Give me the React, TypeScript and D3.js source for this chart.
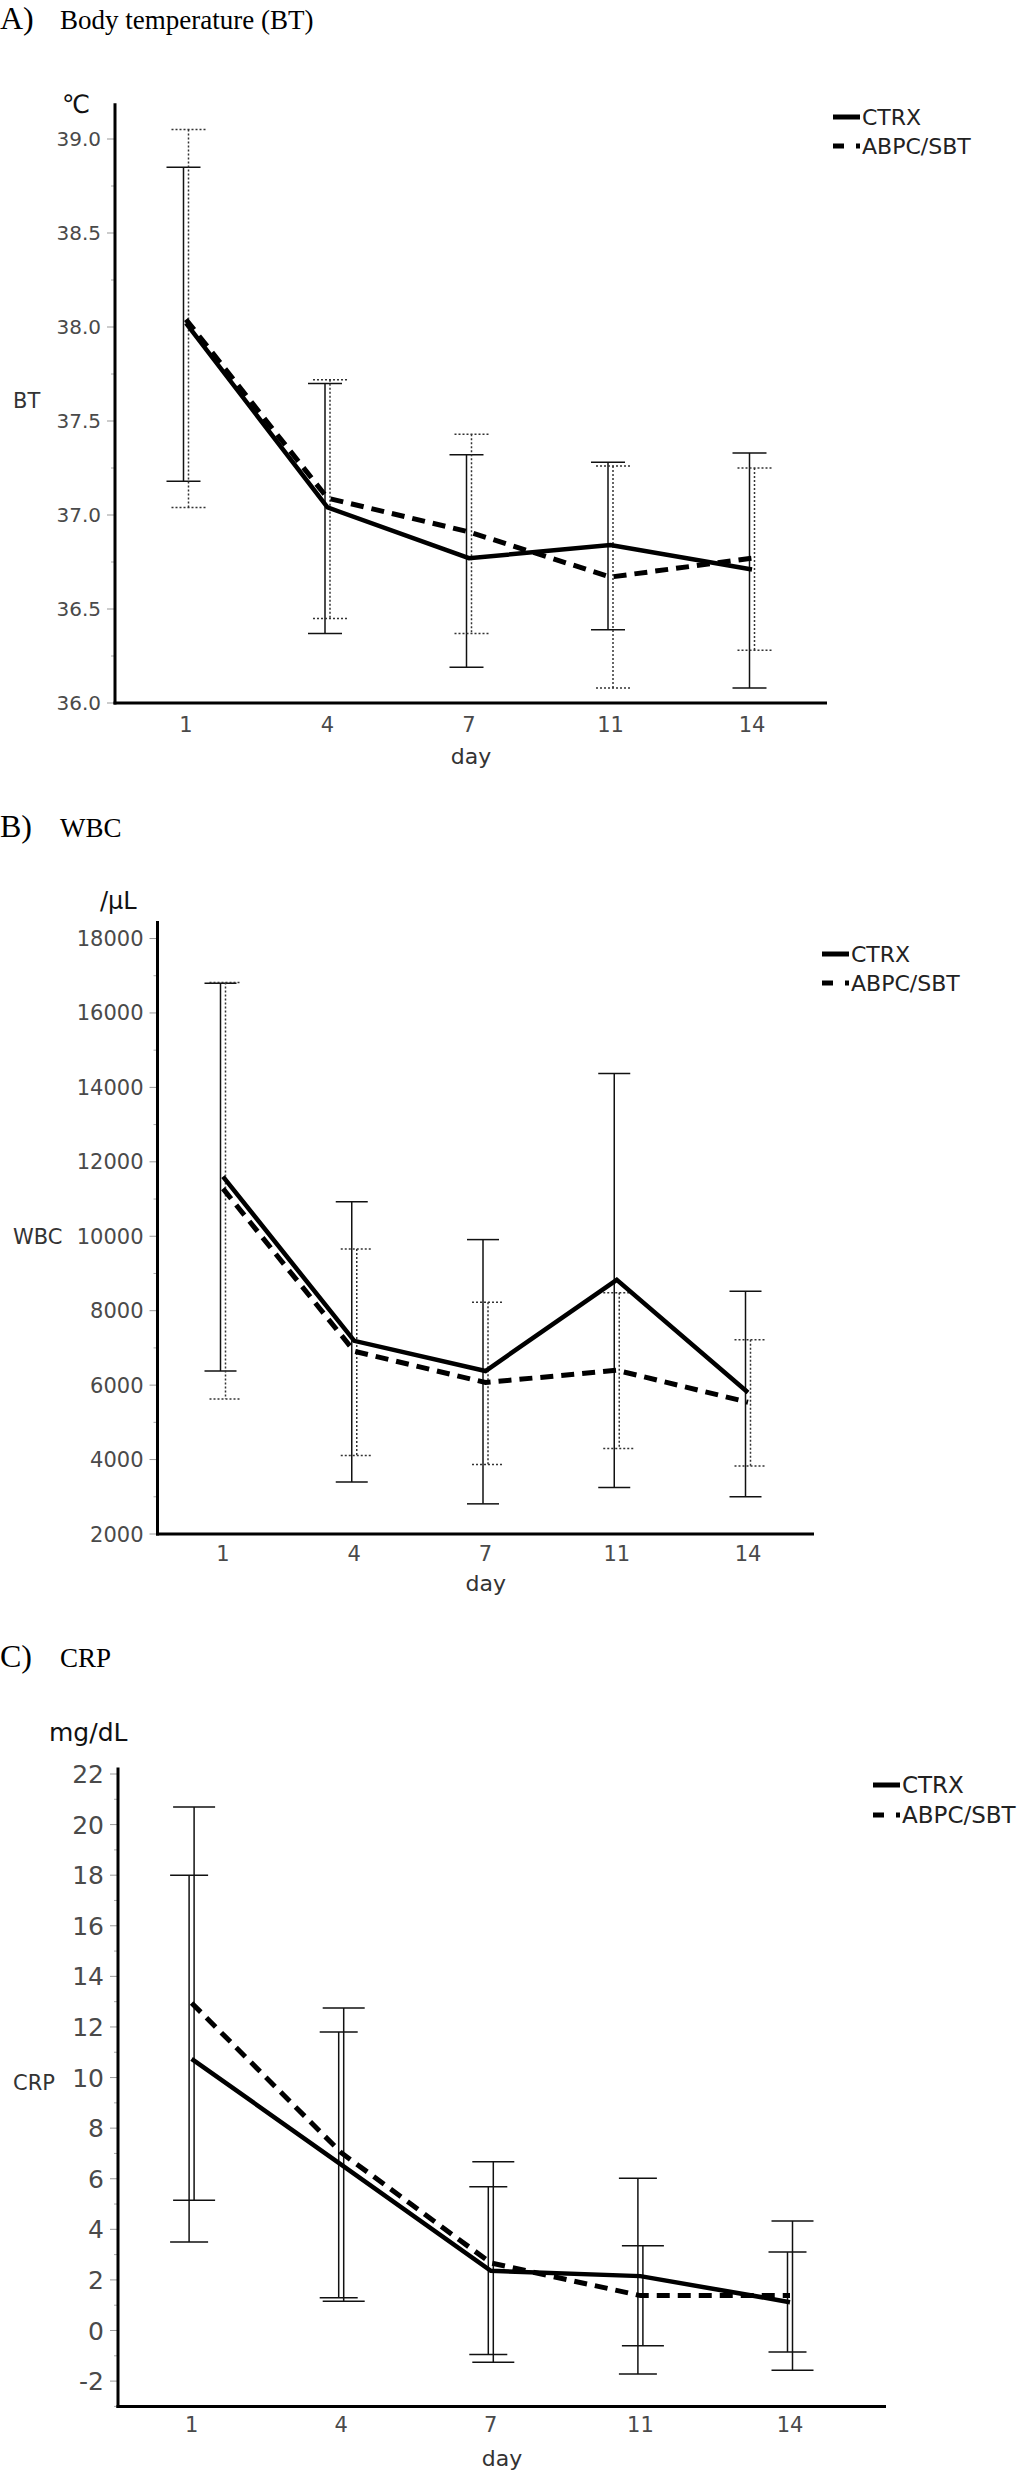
import React from 'react';
import * as d3 from 'd3';

const DAYS = ['1', '4', '7', '11', '14'];

// A) body temperature
const BT_CTRX_MEAN = [38.02, 37.04, 36.77, 36.84, 36.71];
const BT_CTRX_UPPER = [38.85, 37.70, 37.32, 37.28, 37.33];
const BT_CTRX_LOWER = [37.18, 36.37, 36.19, 36.39, 36.08];
const BT_ABPC_MEAN = [38.04, 37.09, 36.91, 36.67, 36.77];
const BT_ABPC_UPPER = [39.05, 37.72, 37.43, 37.26, 37.25];
const BT_ABPC_LOWER = [37.04, 36.45, 36.37, 36.08, 36.28];
const BT_TICKS = [36.0, 36.5, 37.0, 37.5, 38.0, 38.5, 39.0];

// B) WBC
const WBC_CTRX_MEAN = [11600, 7190, 6380, 8830, 5800];
const WBC_CTRX_UPPER = [16800, 10930, 9910, 14370, 8520];
const WBC_CTRX_LOWER = [6380, 3400, 2810, 3250, 3000];
const WBC_ABPC_MEAN = [11280, 6910, 6070, 6400, 5540];
const WBC_ABPC_UPPER = [16820, 9660, 8230, 8480, 7220];
const WBC_ABPC_LOWER = [5630, 4110, 3870, 4300, 3830];
const WBC_TICKS = [2000, 4000, 6000, 8000, 10000, 12000, 14000, 16000, 18000];

// C) CRP
const CRP_CTRX_MEAN = [10.74, 6.56, 2.36, 2.15, 1.12];
const CRP_CTRX_UPPER = [18.0, 11.8, 5.68, 6.02, 3.1];
const CRP_CTRX_LOWER = [3.5, 1.3, -0.95, -1.72, -0.85];
const CRP_ABPC_MEAN = [12.95, 7.03, 2.67, 1.38, 1.38];
const CRP_ABPC_UPPER = [20.7, 12.75, 6.67, 3.35, 4.33];
const CRP_ABPC_LOWER = [5.15, 1.16, -1.25, -0.6, -1.57];
const CRP_TICKS = [-2, 0, 2, 4, 6, 8, 10, 12, 14, 16, 18, 20, 22];

const SERIES_NAMES = ['CTRX', 'ABPC/SBT'];

const SANS = 'DejaVu Sans, Verdana, sans-serif';
const SERIF = 'Liberation Serif, Times New Roman, serif';

// plain hyphen for negatives, like the original
const locale = d3.formatLocale({ decimal: '.', thousands: ',', grouping: [3], currency: ['', ''], minus: '-' });

type Series = { mean: number[]; upper: number[]; lower: number[] };

type PanelProps = {
    letter: string;
    title: string;
    titleY: number;
    unit: string;
    unitX: number;
    unitY: number;
    unitSize: number;
    yLabel: string;
    yLabelY: number;
    domain: [number, number];
    axisTopVal: number;
    ticks: number[];
    minorStep: number;
    tickFmt: (v: number) => string;
    tickFont: number;
    axisX: number;
    axisRight: number;
    firstX: number;
    lastX: number;
    yBottom: number;
    yTop: number;
    xLabelY: number;
    dayY: number;
    legendX: number;
    legendY: number;
    legendFont: number;
    capCtrx: number;
    capAbpc: number;
    abpcBarsDotted: boolean;
    ctrx: Series;
    abpc: Series;
};

function Panel(p: PanelProps) {
    const x = d3.scalePoint<string>().domain(DAYS).range([p.firstX, p.lastX]);
    const y = d3.scaleLinear().domain(p.domain).range([p.yBottom, p.yTop]);
    const line = d3.line<number>()
        .x((_, i) => x(DAYS[i]) as number)
        .y((d) => y(d));

    const minor = d3.range(p.domain[0], p.ticks[p.ticks.length - 1] + 1e-9, p.minorStep)
        .filter((v) => !p.ticks.some((t) => Math.abs(t - v) < 1e-9));

    const bars = (s: Series, dx: number, cap: number, dotted: boolean, key: string) =>
        DAYS.map((d, i) => {
            const cx = (x(d) as number) + dx;
            const yt = y(s.upper[i]);
            const yb = y(s.lower[i]);
            const dash = dotted ? '2,2' : undefined;
            return (
                <g key={key + d} stroke={dotted ? '#333' : '#111'} strokeWidth={1.5} strokeDasharray={dash} fill="none">
                    <line x1={cx} x2={cx} y1={yt} y2={yb} />
                    <line x1={cx - cap} x2={cx + cap} y1={yt} y2={yt} />
                    <line x1={cx - cap} x2={cx + cap} y1={yb} y2={yb} />
                </g>
            );
        });

    const axisTop = y(p.axisTopVal);
    const axisBottom = y(p.domain[0]);

    return (
        <g>
            <text x={0} y={p.titleY} fontFamily={SERIF} fill="#000">
                <tspan fontSize={32}>{p.letter}</tspan>
                <tspan x={60} fontSize={27}>{p.title}</tspan>
            </text>

            <text x={p.unitX} y={p.unitY} fontFamily={SANS} fontSize={p.unitSize} fill="#111">{p.unit}</text>

            {/* y ticks */}
            {minor.map((v) => (
                <line key={'m' + v} x1={p.axisX - 4} x2={p.axisX - 1} y1={y(v)} y2={y(v)} stroke="#aaa" strokeWidth={1} />
            ))}
            {p.ticks.map((v) => (
                <g key={'t' + v}>
                    <line x1={p.axisX - 8} x2={p.axisX - 1} y1={y(v)} y2={y(v)} stroke="#999" strokeWidth={1} />
                    <text x={p.axisX - 14} y={y(v)} dy="0.36em" textAnchor="end" fontFamily={SANS}
                        fontSize={p.tickFont} fill="#4a4a4a">{p.tickFmt(v)}</text>
                </g>
            ))}
            <text x={13} y={p.yLabelY} dy="0.36em" fontFamily={SANS} fontSize={21} fill="#333">{p.yLabel}</text>

            {/* x tick labels */}
            {DAYS.map((d) => (
                <text key={'x' + d} x={x(d)} y={p.xLabelY} dy="0.36em" textAnchor="middle" fontFamily={SANS}
                    fontSize={21} fill="#4a4a4a">{d}</text>
            ))}
            <text x={(p.axisX + p.axisRight) / 2} y={p.dayY} dy="0.36em" textAnchor="middle" fontFamily={SANS}
                fontSize={22} fill="#333">day</text>

            {/* error bars */}
            {bars(p.ctrx, -2.5, p.capCtrx, false, 'c')}
            {bars(p.abpc, 2.5, p.capAbpc, p.abpcBarsDotted, 'a')}

            {/* mean lines */}
            <path d={line(p.abpc.mean) ?? ''} fill="none" stroke="#000" strokeWidth={5} strokeDasharray="13,8" />
            <path d={line(p.ctrx.mean) ?? ''} fill="none" stroke="#000" strokeWidth={4.5} />

            {/* axes */}
            <line x1={p.axisX} x2={p.axisX} y1={axisTop} y2={axisBottom + 1.5} stroke="#000" strokeWidth={3} />
            <line x1={p.axisX - 1.5} x2={p.axisRight} y1={axisBottom} y2={axisBottom} stroke="#000" strokeWidth={3} />

            {/* legend */}
            {SERIES_NAMES.map((name, i) => {
                const ly = p.legendY + i * (p.legendFont + 7);
                return (
                    <g key={name}>
                        <line x1={p.legendX} x2={p.legendX + 27} y1={ly} y2={ly} stroke="#000" strokeWidth={5}
                            strokeDasharray={i === 1 ? '11,12' : undefined} />
                        <text x={p.legendX + 29} y={ly} dy="0.36em" fontFamily={SANS} fontSize={p.legendFont} fill="#222">{name}</text>
                    </g>
                );
            })}
        </g>
    );
}

export default function App() {
    return (
        <div style={{ position: 'absolute', left: 0, top: 0, background: '#fff' }}>
            <svg width={1029} height={2473} viewBox="0 0 1029 2473">
                <rect width={1029} height={2473} fill="#fff" />
                <Panel
                    letter="A)" title="Body temperature (BT)" titleY={29}
                    unit="℃" unitX={62} unitY={113} unitSize={25}
                    yLabel="BT" yLabelY={400}
                    domain={[36, 39]} axisTopVal={39.19} ticks={BT_TICKS} minorStep={0.25}
                    tickFmt={locale.format('.1f')} tickFont={20}
                    axisX={115} axisRight={827} firstX={186} lastX={752} yBottom={703} yTop={139}
                    xLabelY={724} dayY={756}
                    legendX={833} legendY={117} legendFont={22}
                    capCtrx={17} capAbpc={17} abpcBarsDotted
                    ctrx={{ mean: BT_CTRX_MEAN, upper: BT_CTRX_UPPER, lower: BT_CTRX_LOWER }}
                    abpc={{ mean: BT_ABPC_MEAN, upper: BT_ABPC_UPPER, lower: BT_ABPC_LOWER }}
                />
                <Panel
                    letter="B)" title="WBC" titleY={837}
                    unit="/μL" unitX={100} unitY={909} unitSize={24}
                    yLabel="WBC" yLabelY={1236}
                    domain={[2000, 18000]} axisTopVal={18470} ticks={WBC_TICKS} minorStep={1000}
                    tickFmt={locale.format('d')} tickFont={21}
                    axisX={157.5} axisRight={814} firstX={223} lastX={748} yBottom={1534} yTop={938.5}
                    xLabelY={1553} dayY={1583}
                    legendX={822} legendY={954} legendFont={22}
                    capCtrx={16} capAbpc={16} abpcBarsDotted
                    ctrx={{ mean: WBC_CTRX_MEAN, upper: WBC_CTRX_UPPER, lower: WBC_CTRX_LOWER }}
                    abpc={{ mean: WBC_ABPC_MEAN, upper: WBC_ABPC_UPPER, lower: WBC_ABPC_LOWER }}
                />
                <Panel
                    letter="C)" title="CRP" titleY={1667}
                    unit="mg/dL" unitX={49} unitY={1741} unitSize={25}
                    yLabel="CRP" yLabelY={2082}
                    domain={[-3, 22]} axisTopVal={22.26} ticks={CRP_TICKS} minorStep={1}
                    tickFmt={locale.format('d')} tickFont={25}
                    axisX={118} axisRight={886} firstX={191.6} lastX={790} yBottom={2406.4} yTop={1774}
                    xLabelY={2424} dayY={2458}
                    legendX={873} legendY={1785} legendFont={23}
                    capCtrx={19} capAbpc={21} abpcBarsDotted={false}
                    ctrx={{ mean: CRP_CTRX_MEAN, upper: CRP_CTRX_UPPER, lower: CRP_CTRX_LOWER }}
                    abpc={{ mean: CRP_ABPC_MEAN, upper: CRP_ABPC_UPPER, lower: CRP_ABPC_LOWER }}
                />
            </svg>
        </div>
    );
}
